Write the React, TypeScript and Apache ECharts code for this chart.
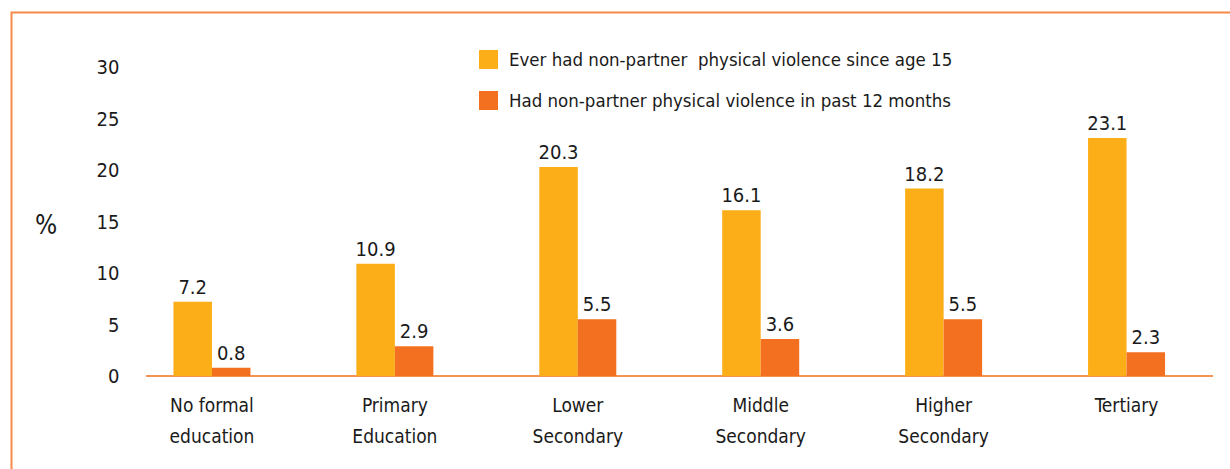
import React, { useEffect, useRef } from "react";
import * as echarts from "echarts";

const categories = ["No formal\neducation", "Primary\nEducation", "Lower\nSecondary", "Middle\nSecondary", "Higher\nSecondary", "Tertiary"];
const everValues = [7.2, 10.9, 20.3, 16.1, 18.2, 23.1];
const pastYearValues = [0.8, 2.9, 5.5, 3.6, 5.5, 2.3];
const seriesNames = ["Ever had non-partner  physical violence since age 15", "Had non-partner physical violence in past 12 months"];
const yTicks = { min: 0, max: 30, interval: 5 };

const FONT = "'Liberation Sans Narrow', 'DejaVu Sans Condensed', 'Noto Sans', sans-serif";
const YELLOW = "#FBAE17";
const ORANGE = "#F37021";

export default function App() {
  const ref = useRef<HTMLDivElement>(null);
  useEffect(() => {
    document.body.style.margin = "0";
    const chart = echarts.init(ref.current!, null, { renderer: "svg" });
    const labelStyle = { show: true, position: "top" as const, distance: 5, color: "#1a1a1a", fontSize: 20, fontFamily: FONT };
    chart.setOption({
      animation: false,
      backgroundColor: "#fff",
      textStyle: { fontFamily: FONT },
      grid: { left: 120.5, right: 12, top: 67, bottom: 93, containLabel: false },
      legend: {
        left: 479,
        top: 50,
        padding: 0,
        orient: "vertical",
        itemWidth: 19,
        itemHeight: 19,
        itemGap: 22,
        icon: "rect",
        selectedMode: false,
        textStyle: { fontSize: 18.5, color: "#1a1a1a", fontFamily: FONT, padding: [0, 0, 0, 6] },
        data: seriesNames,
      },
      xAxis: {
        type: "category",
        data: categories,
        axisLine: { show: false },
        axisTick: { show: false },
        axisLabel: { color: "#1a1a1a", fontSize: 19, fontFamily: FONT, lineHeight: 31, margin: 13, interval: 0 },
      },
      yAxis: {
        type: "value",
        min: yTicks.min,
        max: yTicks.max,
        interval: yTicks.interval,
        axisLine: { show: false },
        axisTick: { show: false },
        splitLine: { show: false },
        axisLabel: { color: "#1a1a1a", fontSize: 20, fontFamily: FONT, margin: 1 },
      },
      series: [
        {
          name: seriesNames[0],
          type: "bar",
          data: everValues,
          itemStyle: { color: YELLOW },
          barWidth: 38.5,
          barGap: "0%",
          label: labelStyle,
        },
        {
          name: seriesNames[1],
          type: "bar",
          data: pastYearValues,
          itemStyle: { color: ORANGE },
          barWidth: 38.5,
          barGap: "0%",
          label: labelStyle,
        },
      ],
    });
    const y0 = chart.convertToPixel({ yAxisIndex: 0 }, 0) as number;
    chart.setOption({
      graphic: [
        {
          type: "rect",
          shape: { x: 11.5, y: 12.5, width: 1300, height: 500 },
          style: { fill: "none", stroke: "#F58A4B", lineWidth: 2 },
          silent: true,
        },
        {
          type: "line",
          shape: { x1: 146, y1: y0, x2: 1213, y2: y0 },
          style: { stroke: ORANGE, lineWidth: 1.5 },
          z: 1,
          silent: true,
        },
        {
          type: "text",
          x: 46,
          y: 225,
          style: { text: "%", fontSize: 26, fontFamily: FONT, fill: "#1a1a1a", textAlign: "center", textVerticalAlign: "middle" },
          silent: true,
        },
      ],
    });
    return () => chart.dispose();
  }, []);
  return <div ref={ref} style={{ width: 1230, height: 469 }} />;
}
